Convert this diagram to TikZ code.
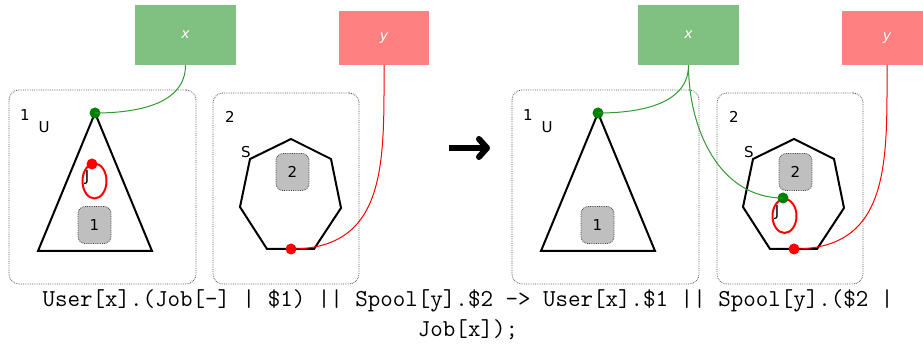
\documentclass[tikz,border=0pt]{standalone}
\usepackage{fontspec}
\usetikzlibrary{arrows.meta}
\newfontfamily\labelfont{DejaVu Sans}
\definecolor{namegreen}{RGB}{128,192,128}
\definecolor{namered}{RGB}{255,128,128}
\definecolor{dotgreen}{RGB}{0,128,0}
\begin{document}
\begin{tikzpicture}[x=1pt,y=-1pt,
  namebox/.style={rectangle, inner sep=0pt, text=white, font=\labelfont\itshape\fontsize{14}{14}\selectfont},
  frame/.style={rectangle, draw=gray!70!black, densely dotted, line width=0.8pt, rounded corners=10pt, inner sep=0pt},
  jobbox/.style={rectangle, draw=gray!50!black, densely dotted, line width=0.8pt, fill=gray!50, rounded corners=7pt,
                 minimum width=33pt, minimum height=37pt, inner sep=0pt, font=\labelfont\fontsize{15}{15}\selectfont},
  lbl/.style={inner sep=0pt, font=\labelfont\fontsize{15}{15}\selectfont},
  outline/.style={draw=black, line width=2pt, line join=miter},
  dot/.style={circle, inner sep=0pt, minimum size=11pt},
  link/.style={line width=1pt}]
\useasboundingbox (0,0) rectangle (923,352);
% name boxes, left
\node[namebox, fill=namegreen, minimum width=101pt, minimum height=60pt] (xl) at (185.5,35) {x};
\node[namebox, fill=namered, minimum width=90pt, minimum height=54pt] (yl) at (384,38) {y};
% frames, left
\node[frame, minimum width=187pt, minimum height=194pt] (fa) at (102.5,187) {};
\node[frame, minimum width=146pt, minimum height=191pt] (fb) at (286,188.5) {};
\node[lbl] (na) at (25,115) {1};
\node[lbl] (nu) at (44,127) {U};
\node[lbl] (nb) at (230,117) {2};
\node[lbl] (ns) at (246,152) {S};
% user triangle and spool heptagon, left
\draw[outline] (95,113) -- (38,251) -- (152,251) -- cycle;
\draw[outline] (291,139) -- (331,159) -- (341,208) -- (314,249) -- (267,249) -- (240,207) -- (250,159) -- cycle;
\node[jobbox] (ja) at (94.5,225) {\raisebox{-6pt}{1}};
\node[jobbox] (jb) at (292.5,172) {\raisebox{-6pt}{2}};
% job, left
\draw[red, line width=2pt] (94.5,181) ellipse [x radius=12pt, y radius=17.5pt];
\node[lbl] (nj) at (87,178) {J};
\node[dot, fill=red] (jl) at (92,164) {};
\node[dot, fill=dotgreen] (ul) at (95,113) {};
\node[dot, fill=red] (sl) at (291,249) {};
% links, left
\draw[link, dotgreen!80] (xl.south) to[out=-90, in=0] (ul.center);
\draw[link, red] (yl.south) to[out=-90, in=0, looseness=1.2] (sl.center);
% arrow
\coordinate (arra) at (449,148);
\coordinate (arrb) at (490,148);
\draw[line width=6pt, -{Straight Barb[length=8pt, width=18pt, line cap=round, line join=round]}] (arra) -- (arrb);
% name boxes, right
\node[namebox, fill=namegreen, minimum width=101pt, minimum height=60pt] (xr) at (688.5,35) {x};
\node[namebox, fill=namered, minimum width=90pt, minimum height=54pt] (yr) at (887,38) {y};
% frames, right
\node[frame, minimum width=187pt, minimum height=194pt] (fc) at (605.5,187) {};
\node[frame, minimum width=146pt, minimum height=191pt] (fd) at (790,188.5) {};
\node[lbl] (nc) at (528,115) {1};
\node[lbl] (nv) at (547,127) {U};
\node[lbl] (nd) at (734,117) {2};
\node[lbl] (nt) at (749,152) {S};
% user triangle and spool heptagon, right
\draw[outline] (598,113) -- (541,251) -- (655,251) -- cycle;
\draw[outline] (794,139) -- (834,159) -- (844,208) -- (817,249) -- (770,249) -- (743,207) -- (753,159) -- cycle;
\node[jobbox] (jc) at (597.5,225) {\raisebox{-6pt}{1}};
\node[jobbox] (jd) at (795.5,172) {\raisebox{-6pt}{2}};
% job, right
\draw[red, line width=2pt] (784.5,216) ellipse [x radius=12pt, y radius=17pt];
\node[lbl] (nk) at (777,213) {J};
\node[dot, fill=dotgreen] (jr) at (783,198) {};
\node[dot, fill=dotgreen] (ur) at (598,113) {};
\node[dot, fill=red] (sr) at (794,249) {};
% links, right
\draw[link, dotgreen!80] (xr.south) to[out=-90, in=0] (ur.center);
\draw[link, dotgreen!80] (xr.south) to[out=-90, in=180] (jr.center);
\draw[link, red] (yr.south) to[out=-90, in=0, looseness=1.2] (sr.center);
% rule
\node[anchor=base, align=center, font=\ttfamily\fontsize{24.3}{30}\selectfont] (rule) at (468,337)
  {User[x].(Job[-] | \$1) || Spool[y].\$2 -> User[x].\$1 || Spool[y].(\$2 |\\ Job[x]);};
\end{tikzpicture}
\end{document}
